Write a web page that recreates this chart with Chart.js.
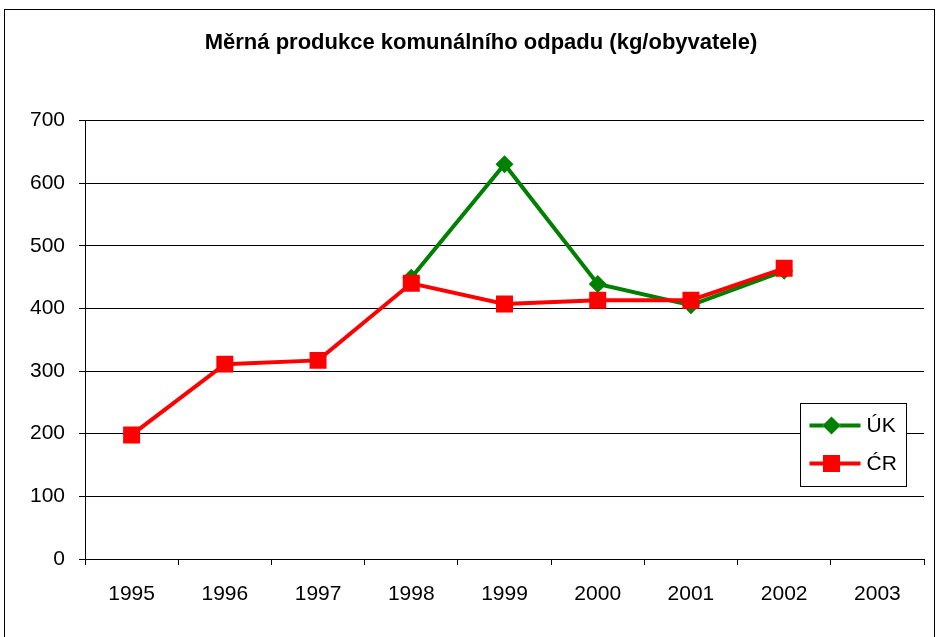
<!DOCTYPE html>
<html>
<head>
<meta charset="utf-8">
<script src="https://cdn.jsdelivr.net/npm/chart.js@4"></script>
<style>
    html, body { margin: 0; padding: 0; background: #fff; }
    #wrap { width: 936px; height: 637px; position: relative; }
</style>
</head>
<body>
<div id="wrap"><canvas id="odpad"></canvas></div>
<script>
// Data
const roky = ['1995', '1996', '1997', '1998', '1999', '2000', '2001', '2002', '2003'];
const ukHodnoty = [null, null, null, 449, 630, 439, 405, 460, null];
const crHodnoty = [198, 311, 317, 440, 407, 413, 413, 464, null];
const yTicky = [0, 100, 200, 300, 400, 500, 600, 700];

const FONT = "'Liberation Sans', Arial, sans-serif";

// Rámeček kolem celého grafu + posun titulku trochu doprava
const ramecek = {
    id: 'ramecek',
    afterLayout(chart) {
        if (chart.titleBlock) chart.titleBlock.left = 36;
    },
    beforeDraw(chart) {
        const ctx = chart.ctx;
        ctx.save();
        ctx.strokeStyle = '#000';
        ctx.lineWidth = 1;
        ctx.strokeRect(4.5, 9.5, chart.width - 6, chart.height + 20);
        ctx.restore();
    }
};

// Legenda uvnitř plochy grafu (vpravo dole)
const legendaUvnitr = {
    id: 'legendaUvnitr',
    afterDraw(chart) {
        const ctx = chart.ctx;
        const a = chart.chartArea;
        const w = 106, h = 83;
        const x = Math.round(a.right - 18 - w) + 0.5;
        const y = Math.round(a.top + 283) + 0.5;
        ctx.save();
        ctx.fillStyle = '#fff';
        ctx.fillRect(x, y, w, h);
        ctx.strokeStyle = '#000';
        ctx.lineWidth = 1;
        ctx.strokeRect(x, y, w, h);
        chart.data.datasets.forEach((ds, i) => {
            const cy = y + 22 + i * 38;
            ctx.strokeStyle = ds.borderColor;
            ctx.lineWidth = ds.borderWidth;
            ctx.beginPath();
            ctx.moveTo(x + 9, cy);
            ctx.lineTo(x + 60, cy);
            ctx.stroke();
            Chart.helpers.drawPoint(ctx, {
                pointStyle: ds.pointStyle,
                radius: ds.pointRadius,
                borderWidth: 0
            }, x + 31, cy);
            ctx.fillStyle = ds.pointBackgroundColor;
            ctx.fill();
            ctx.fillStyle = '#000';
            ctx.font = '21px ' + FONT;
            ctx.textBaseline = 'middle';
            ctx.fillText(ds.label, x + 66, cy + 1);
        });
        ctx.restore();
    }
};

new Chart(document.getElementById('odpad'), {
    type: 'line',
    data: {
        labels: roky,
        datasets: [{
            label: 'ÚK',
            data: ukHodnoty,
            borderColor: '#008000',
            backgroundColor: '#008000',
            pointBackgroundColor: '#008000',
            pointBorderColor: '#008000',
            borderWidth: 4,
            pointStyle: 'rectRot',
            pointRadius: 9,
            pointBorderWidth: 0,
            tension: 0,
            order: 1
        }, {
            label: 'ĆR',
            data: crHodnoty,
            borderColor: '#ff0000',
            backgroundColor: '#ff0000',
            pointBackgroundColor: '#ff0000',
            pointBorderColor: '#ff0000',
            borderWidth: 4,
            pointStyle: 'rect',
            pointRadius: 12,
            pointBorderWidth: 0,
            tension: 0,
            order: 0
        }]
    },
    options: {
        responsive: true,
        maintainAspectRatio: false,
        animation: false,
        layout: { padding: { left: 0, right: 10, top: 0, bottom: 0 } },
        plugins: {
            legend: { display: false },
            tooltip: { enabled: false },
            title: {
                display: true,
                text: 'Měrná produkce komunálního odpadu (kg/obyvatele)',
                color: '#000',
                font: { family: FONT, size: 22, weight: 'bold' },
                padding: { top: 30, bottom: 64 }
            }
        },
        scales: {
            x: {
                offset: true,
                grid: {
                    display: true,
                    offset: true,
                    drawOnChartArea: false,
                    tickLength: 6,
                    color: '#000'
                },
                border: { color: '#000', width: 1 },
                ticks: {
                    color: '#000',
                    font: { family: FONT, size: 21 },
                    padding: 17,
                    maxRotation: 0
                },
                afterFit(scale) { scale.height = 78; }
            },
            y: {
                min: 0,
                max: 700,
                afterBuildTicks(scale) {
                    scale.ticks = yTicky.map(v => ({ value: v }));
                },
                grid: {
                    color: '#000',
                    tickLength: 6
                },
                border: { color: '#000', width: 1 },
                ticks: {
                    color: '#000',
                    font: { family: FONT, size: 21 },
                    padding: 14
                },
                afterFit(scale) { scale.width = 85; }
            }
        }
    },
    plugins: [ramecek, legendaUvnitr]
});
</script>
</body>
</html>
